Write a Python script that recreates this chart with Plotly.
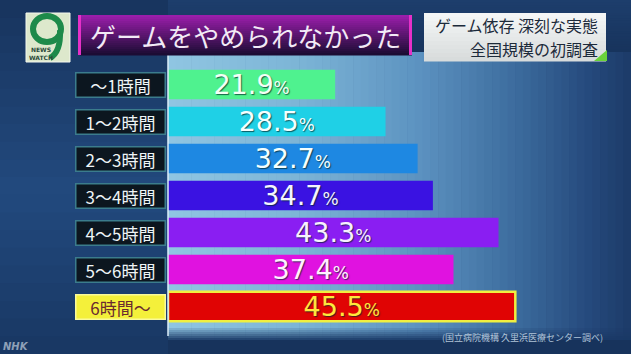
import plotly.graph_objects as go

categories = ["〜1時間", "1〜2時間", "2〜3時間", "3〜4時間", "4〜5時間", "5〜6時間", "6時間〜"]
values = [21.9, 28.5, 32.7, 34.7, 43.3, 37.4, 45.5]
bar_colors = ["#4ff28f", "#1fd0e6", "#1e88e2", "#3a12e2", "#8a1ef2", "#e012e0", "#e00404"]
text_colors = ["#f4fff6", "#f4ffff", "#f4ffff", "#f4f4ff", "#f8f0ff", "#fff0ff", "#ffe83c"]
title = "ゲームをやめられなかった"
subtitle = ["ゲーム依存 深刻な実態", "全国規模の初調査"]
source = "(国立病院機構 久里浜医療センター調べ)"

W, H = 631, 354
L, R, T, B = 168, 5, 66, 29
PW, PH = W - L - R, H - T - B
FONT = "Noto Sans CJK JP"


def px(x):
    return (x - L) / PW


def py(y):
    return 1 - (y - T) / PH


shapes = []


def rect(x0, y0, x1, y1, color, line=None, lw=0, layer="below"):
    shapes.append(dict(type="rect", xref="paper", yref="paper",
                       x0=px(x0), x1=px(x1), y0=py(y1), y1=py(y0),
                       fillcolor=color, line=dict(color=line or color, width=lw),
                       layer=layer))


def lerp(c1, c2, t):
    a = [int(c1[i:i + 2], 16) for i in (1, 3, 5)]
    b = [int(c2[i:i + 2], 16) for i in (1, 3, 5)]
    return "#" + "".join(f"{round(a[k] + (b[k] - a[k]) * t):02x}" for k in range(3))


# left-side background slightly lighter in the middle
for i in range(20):
    y0 = i * H / 20
    t = abs((y0 + H / 40) - 190) / 190
    rect(0, y0, 168, y0 + H / 20 + 0.5, lerp("#22497e", "#17345e", t))
for i in range(20):
    y0 = i * 52 / 20
    rect(168, y0, W, y0 + 52 / 20 + 0.5, lerp("#1d3e6c", "#17335c", i / 20))
rect(168, 340, W, H, "#17335c")

# light panel behind the bars
stops = [(168, "#90c6e2"), (300, "#7cb4d6"), (420, "#5c92c0"), (520, "#3b6a9c"), (590, "#25497c"), (631, "#1c3b68")]
n = 60
for i in range(n):
    x0 = 168 + i * (W - 168) / n
    xc = x0 + (W - 168) / n / 2
    for j in range(len(stops) - 1):
        if stops[j][0] <= xc <= stops[j + 1][0]:
            t = (xc - stops[j][0]) / (stops[j + 1][0] - stops[j][0])
            c = lerp(stops[j][1], stops[j + 1][1], t)
    rect(x0, 52, x0 + (W - 168) / n + 0.6, 340, c)
# fade at bottom of panel
for k in range(6):
    y0 = 328 + k * 2
    shapes.append(dict(type="rect", xref="paper", yref="paper", x0=px(168), x1=px(W),
                       y0=py(y0 + 2), y1=py(y0), fillcolor="#1a3866", opacity=0.15 * (k + 1),
                       line=dict(width=0), layer="below"))

# vertical divider line
shapes.append(dict(type="line", xref="paper", yref="paper", x0=px(168), x1=px(168),
                   y0=py(336), y1=py(48), line=dict(color="#dbeef8", width=1.5), layer="above"))

# header banner (purple gradient)
for i in range(20):
    y0 = 15 + i * 2
    rect(80, y0, 412, y0 + 2.5, lerp("#9a1eaa", "#1c0c34", i / 19), layer="above")
rect(78, 15, 81, 55, "#e630c8", layer="above")
rect(409, 15, 412, 55, "#e630c8", layer="above")

# logo
rect(26, 13, 70, 62, "#dde8cc", line="#f4f8ee", lw=1, layer="above")
shapes.append(dict(type="circle", xref="paper", yref="paper", x0=px(33), x1=px(61),
                   y0=py(42), y1=py(16), fillcolor="#dde8cc",
                   line=dict(color="#1d8a4a", width=6), layer="above"))
shapes.append(dict(type="path", xref="paper", yref="paper",
                   path=f"M {px(60)} {py(30)} Q {px(61)} {py(52)} {px(50)} {py(58)}",
                   line=dict(color="#1d8a4a", width=6), layer="above"))

# subtitle box
for i in range(12):
    y0 = 13 + i * 4
    rect(424, y0, 606, y0 + 4.5, lerp("#f4f6f6", "#d8dcdc", i / 11), layer="above")
shapes.append(dict(type="path", xref="paper", yref="paper",
                   path=f"M {px(594)} {py(61)} L {px(607)} {py(61)} L {px(607)} {py(50)} Z",
                   fillcolor="#6ad23a", line=dict(width=0), layer="above"))

annotations = []
# label boxes at the left
for i, cat in enumerate(categories):
    last = i == len(categories) - 1
    annotations.append(dict(
        xref="paper", yref="y", x=px(120), y=cat, text=cat, showarrow=False,
        xanchor="center", yanchor="middle", width=86, height=21,
        bgcolor="#f4f03a" if last else "#0c161f",
        bordercolor="#fafa9a" if last else "#3b7c8c", borderwidth=1.5, borderpad=1,
        font=dict(family=FONT, size=17, color="#6a2a30" if last else "#eef4f6")))

annotations += [
    dict(xref="paper", yref="paper", x=px(245), y=py(35), text=title, showarrow=False,
         xanchor="center", yanchor="middle",
         font=dict(family=FONT, size=26, color="#f2eaf6")),
    dict(xref="paper", yref="paper", x=px(600), y=py(24.5), text=subtitle[0],
         showarrow=False, xanchor="right", yanchor="middle",
         font=dict(family=FONT, size=16, color="#1c2a3a")),
    dict(xref="paper", yref="paper", x=px(600), y=py(48.5), text=subtitle[1],
         showarrow=False, xanchor="right", yanchor="middle",
         font=dict(family=FONT, size=16, color="#1c2a3a")),
    dict(xref="paper", yref="paper", x=px(605), y=py(337), text=source, showarrow=False,
         xanchor="right", yanchor="middle", font=dict(family=FONT, size=9, color="#b0c4d8")),
    dict(xref="paper", yref="paper", x=px(1), y=py(346), text="<b><i>NHK</i></b>", showarrow=False,
         xanchor="left", yanchor="middle", font=dict(family="DejaVu Sans", size=10, color="#8ea0b8")),
    dict(xref="paper", yref="paper", x=px(41), y=py(53), text="<b>NEWS<br>WATCH</b>", showarrow=False,
         xanchor="center", yanchor="middle", font=dict(family="DejaVu Sans", size=6, color="#2a4a3a")),
]

texts = [f"{v}<span style='font-size:17px'>%</span>" for v in values]
line_w = [0] * (len(values) - 1) + [2.5]
line_c = ["rgba(0,0,0,0)"] * (len(values) - 1) + ["#f0f040"]

fig = go.Figure(go.Bar(
    x=values, y=categories, orientation="h", width=0.8,
    marker=dict(color=bar_colors, line=dict(color=line_c, width=line_w)),
    text=texts, textposition="inside", insidetextanchor="middle", constraintext="none",
    textfont=dict(family="DejaVu Sans", size=27, color=text_colors,
                  shadow="1px 1px 1px rgba(0,40,40,0.7)"),
    cliponaxis=False, hoverinfo="skip",
))

fig.update_layout(
    width=W, height=H, margin=dict(l=L, r=R, t=T, b=B),
    paper_bgcolor="#1d3d6b", plot_bgcolor="rgba(0,0,0,0)",
    xaxis=dict(range=[0, 60], visible=False, fixedrange=True),
    yaxis=dict(categoryorder="array", categoryarray=categories, autorange="reversed",
               visible=False, fixedrange=True),
    shapes=shapes, annotations=annotations, showlegend=False,
)

fig.write_html("out.html")
